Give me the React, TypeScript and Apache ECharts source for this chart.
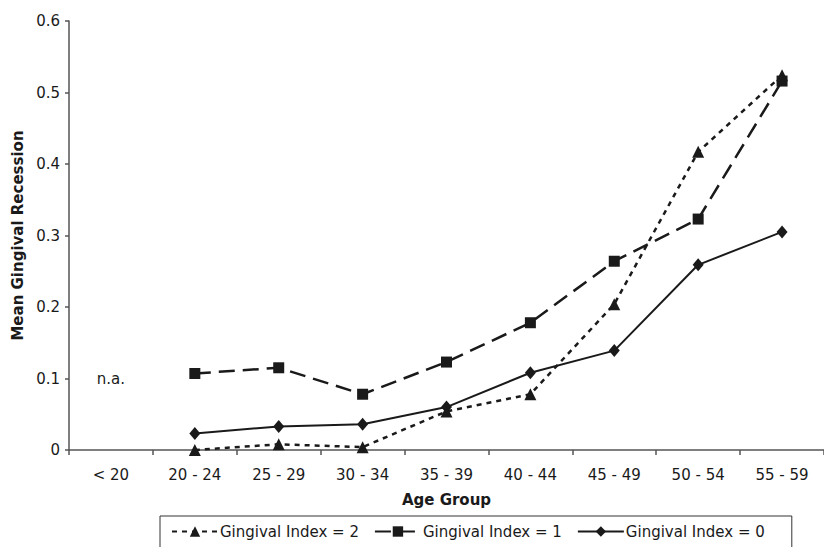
import React, { useEffect, useRef } from "react";
import * as echarts from "echarts";

const categories = ["< 20", "20 - 24", "25 - 29", "30 - 34", "35 - 39", "40 - 44", "45 - 49", "50 - 54", "55 - 59"];
const seriesNames = ["Gingival Index = 2", "Gingival Index = 1", "Gingival Index = 0"];
const gi2 = [null, 0.0, 0.008, 0.004, 0.054, 0.078, 0.204, 0.417, 0.524];
const gi1 = [null, 0.107, 0.115, 0.078, 0.123, 0.178, 0.264, 0.323, 0.516];
const gi0 = [null, 0.023, 0.033, 0.036, 0.06, 0.108, 0.139, 0.259, 0.305];
const naNote = [0.1, null, null, null, null, null, null, null, null];
const yTicks = { min: 0, max: 0.6, interval: 0.1 };

const FONT = "DejaVu Sans";
const INK = "#1a1a1a";
const AXIS = "#555555";

export default function App() {
  const ref = useRef<HTMLDivElement>(null);
  useEffect(() => {
    if (!ref.current) return;
    const chart = echarts.init(ref.current, undefined, { renderer: "svg" });
    const lineCommon = {
      type: "line",
      connectNulls: false,
      z: 3,
    };
    chart.setOption({
      animation: false,
      backgroundColor: "#ffffff",
      textStyle: { fontFamily: FONT, color: INK },
      grid: { left: 69, right: -4, top: 21, bottom: 97 },
      legend: {
        data: seriesNames,
        left: 160,
        top: 516,
        orient: "horizontal",
        borderColor: "#333",
        borderWidth: 1,
        borderRadius: 0,
        padding: [8, 27, 14, 11],
        itemWidth: 46,
        itemHeight: 13,
        itemGap: 15,
        textStyle: { fontFamily: FONT, fontSize: 15, color: INK, padding: [0, 0, 0, -3] },
      },
      xAxis: {
        type: "category",
        data: categories,
        boundaryGap: true,
        name: "Age Group",
        nameLocation: "middle",
        nameGap: 42,
        nameTextStyle: { fontFamily: FONT, fontSize: 15, fontWeight: "bold", color: INK },
        axisLine: { lineStyle: { color: AXIS, width: 1.5 } },
        axisTick: { show: true, length: 5, inside: false, lineStyle: { color: AXIS, width: 1.5 } },
        axisLabel: { fontFamily: FONT, fontSize: 15, color: INK, margin: 17 },
        splitLine: { show: false },
      },
      yAxis: {
        type: "value",
        min: yTicks.min,
        max: yTicks.max,
        interval: yTicks.interval,
        name: "Mean Gingival Recession",
        nameLocation: "middle",
        nameGap: 44,
        nameRotate: 90,
        nameTextStyle: { fontFamily: FONT, fontSize: 15, fontWeight: "bold", color: INK },
        axisLine: { show: true, lineStyle: { color: AXIS, width: 1.5 } },
        axisTick: { show: true, length: 4, lineStyle: { color: AXIS, width: 1.5 } },
        axisLabel: {
          fontFamily: FONT,
          fontSize: 15,
          color: INK,
          margin: 9,
          formatter: (v: number) => (v === 0 ? "0" : v.toFixed(1)),
        },
        splitLine: { show: false },
      },
      series: [
        {
          ...lineCommon,
          name: seriesNames[0],
          data: gi2,
          symbol: "triangle",
          symbolSize: 12,
          itemStyle: { color: INK },
          lineStyle: { color: INK, width: 2.5, type: [5, 5] },
        },
        {
          ...lineCommon,
          name: seriesNames[1],
          data: gi1,
          symbol: "rect",
          symbolSize: 11,
          itemStyle: { color: INK },
          lineStyle: { color: INK, width: 2.5, type: [16, 8] },
        },
        {
          ...lineCommon,
          name: seriesNames[2],
          data: gi0,
          symbol: "diamond",
          symbolSize: [11, 13],
          itemStyle: { color: INK },
          lineStyle: { color: INK, width: 2, type: "solid" },
        },
        {
          type: "scatter",
          name: "na",
          data: naNote,
          symbolSize: 0,
          silent: true,
          itemStyle: { opacity: 1, color: INK },
          label: {
            show: true,
            position: "inside",
            formatter: "n.a.",
            fontFamily: FONT,
            fontSize: 15,
            color: INK,
            opacity: 1,
          },
        },
      ],
    });
    return () => chart.dispose();
  }, []);
  return (
    <div
      ref={ref}
      style={{ position: "fixed", left: 0, top: 0, width: 824, height: 547, background: "#fff" }}
    />
  );
}
